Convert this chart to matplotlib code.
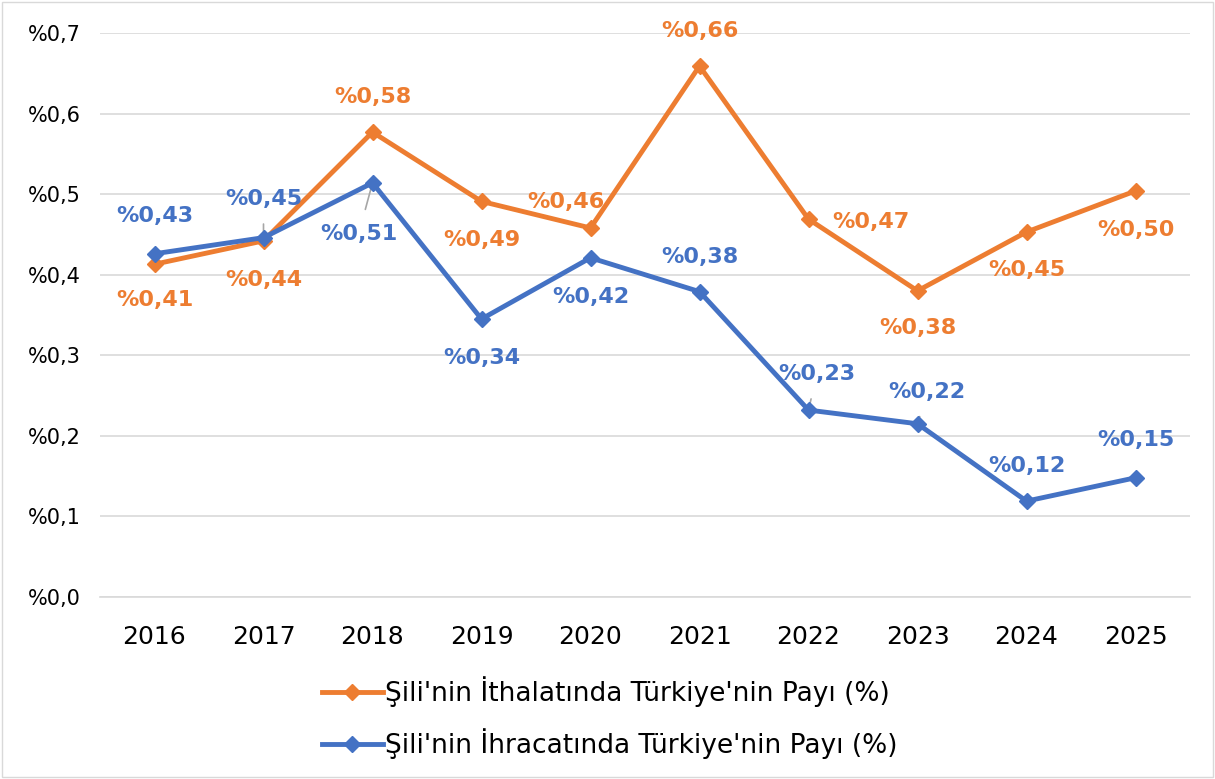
import matplotlib.pyplot as plt
from matplotlib.patches import Rectangle
from matplotlib.lines import Line2D

plt.rcParams['font.family'] = ['DejaVu Sans']

years = ['2016', '2017', '2018', '2019', '2020', '2021', '2022', '2023', '2024', '2025']
ithalat = [0.413, 0.442, 0.577, 0.491, 0.458, 0.659, 0.469, 0.380, 0.453, 0.504]
ihracat = [0.426, 0.446, 0.514, 0.345, 0.421, 0.379, 0.232, 0.215, 0.119, 0.148]
ithalat_labels = ['%0,41', '%0,44', '%0,58', '%0,49', '%0,46', '%0,66', '%0,47', '%0,38', '%0,45', '%0,50']
ihracat_labels = ['%0,43', '%0,45', '%0,51', '%0,34', '%0,42', '%0,38', '%0,23', '%0,22', '%0,12', '%0,15']
yticks = [0.0, 0.1, 0.2, 0.3, 0.4, 0.5, 0.6, 0.7]
ytick_labels = ['%0,0', '%0,1', '%0,2', '%0,3', '%0,4', '%0,5', '%0,6', '%0,7']

orange = '#ED7D31'
blue = '#4472C4'

# label offsets in points (dx, dy)
off_ith = [(0, -26), (0, -28), (0, 25), (0, -28), (-18, 19), (0, 25), (45, -2), (0, -27), (0, -27), (0, -28)]
off_ihr = [(0, 27), (0, 28), (-10, -37), (0, -28), (0, -28), (0, 25), (6, 26), (7, 23), (0, 25), (0, 27)]
leaders = {1: True, 2: True, 6: True, 7: True}

fig = plt.figure(figsize=(12.15, 7.79), dpi=100)
ax = fig.add_axes([100 / 1215, 1 - 597 / 779, 1090 / 1215, 564 / 779])

x = list(range(len(years)))
ax.plot(x, ithalat, color=orange, lw=3.5, marker='D', ms=8.5, zorder=3)
ax.plot(x, ihracat, color=blue, lw=3.5, marker='D', ms=8.5, zorder=4)

for i in x:
    ax.annotate(ithalat_labels[i], (i, ithalat[i]), xytext=off_ith[i], textcoords='offset points',
                ha='center', va='center', color=orange, fontsize=16, fontweight='bold')
    arrow = dict(arrowstyle='-', color='#A6A6A6', lw=1.2, shrinkA=9, shrinkB=4) if i in leaders else None
    ax.annotate(ihracat_labels[i], (i, ihracat[i]), xytext=off_ihr[i], textcoords='offset points',
                ha='center', va='center', color=blue, fontsize=16, fontweight='bold',
                arrowprops=arrow)

ax.set_xlim(-0.5, len(years) - 0.5)
ax.set_ylim(0, 0.7)
ax.set_xticks(x)
ax.set_xticklabels(years, fontsize=18)
ax.set_yticks(yticks)
ax.set_yticklabels(ytick_labels, fontsize=15)
ax.tick_params(length=0)
ax.tick_params(axis='y', pad=14)
ax.tick_params(axis='x', pad=20)
ax.grid(axis='y', color='#D9D9D9', lw=1.2)
ax.set_axisbelow(True)
for s in ['top', 'right', 'left']:
    ax.spines[s].set_visible(False)
ax.spines['bottom'].set_color('#D9D9D9')
ax.spines['bottom'].set_linewidth(1.2)

handles = [Line2D([], [], color=orange, lw=3.5, marker='D', ms=8.5),
           Line2D([], [], color=blue, lw=3.5, marker='D', ms=8.5)]
fig.legend(handles, ["Şili'nin İthalatında Türkiye'nin Payı (%)", "Şili'nin İhracatında Türkiye'nin Payı (%)"],
           loc='center', bbox_to_anchor=(610 / 1215, 1 - 718 / 779), ncol=1, frameon=False,
           fontsize=19, handlelength=2.3, handletextpad=0.1, labelspacing=0.8)

fig.patches.append(Rectangle((0.002, 0.002), 0.996, 0.996, transform=fig.transFigure,
                             fill=False, edgecolor='#D9D9D9', lw=1))

fig.savefig('out.png', dpi=100)
